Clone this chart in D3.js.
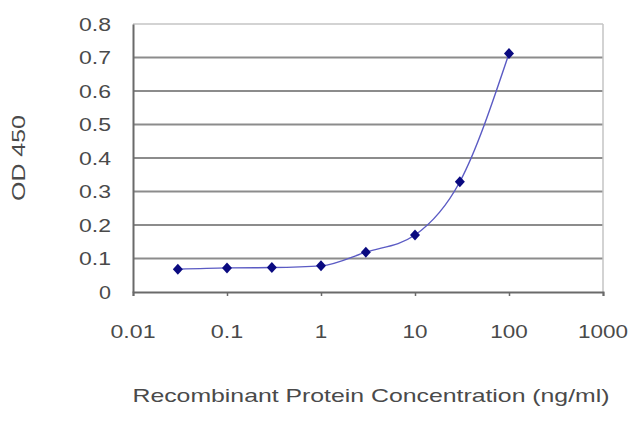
<!DOCTYPE html>
<html>
<head>
<meta charset="utf-8">
<script src="https://cdn.jsdelivr.net/npm/d3@7"></script>
<style>
  html, body { margin: 0; padding: 0; background: #fff; }
  svg { display: block; }
  text { font-family: "Liberation Sans", Arial, sans-serif; fill: #4a4a4a; }
</style>
</head>
<body>
<svg id="chart" width="640" height="427"></svg>
<script>
// Data
const concentrations = [0.03, 0.1, 0.3, 1, 3, 10, 30, 100];
const odValues = [0.068, 0.072, 0.073, 0.078, 0.119, 0.170, 0.329, 0.712];
const xTicks = [0.01, 0.1, 1, 10, 100, 1000];
const xTickLabels = ["0.01", "0.1", "1", "10", "100", "1000"];
const yTicks = [0, 0.1, 0.2, 0.3, 0.4, 0.5, 0.6, 0.7, 0.8];
const yTickLabels = ["0", "0.1", "0.2", "0.3", "0.4", "0.5", "0.6", "0.7", "0.8"];
const xTitle = "Recombinant Protein Concentration (ng/ml)";
const yTitle = "OD 450";

const svg = d3.select("#chart");
const mLeft = 133, mRight = 603, mTop = 24, mBottom = 292;

const x = d3.scaleLog().domain([0.01, 1000]).range([mLeft, mRight]);
const y = d3.scaleLinear().domain([0, 0.8]).range([mBottom, mTop]);

// Gridlines
svg.append("g").selectAll("line")
  .data(yTicks.filter(d => d > 0))
  .join("line")
  .attr("x1", mLeft).attr("x2", mRight)
  .attr("y1", d => y(d)).attr("y2", d => y(d))
  .attr("stroke", d => d === 0.8 ? "#c4c4c4" : "#8c8c8c")
  .attr("stroke-width", d => d === 0.8 ? 1.5 : 2);

// Right border
svg.append("line")
  .attr("x1", mRight).attr("x2", mRight).attr("y1", mTop).attr("y2", mBottom)
  .attr("stroke", "#c4c4c4").attr("stroke-width", 1.5);

// Axes
const xAxis = d3.axisBottom(x).tickValues(xTicks).tickSize(4).tickFormat("");
const gx = svg.append("g").attr("transform", `translate(0,${mBottom})`).call(xAxis);
gx.select(".domain").attr("stroke", "#6a6a6a").attr("stroke-width", 2);
gx.selectAll(".tick line").attr("stroke", "#6a6a6a").attr("stroke-width", 1.5);

const yAxis = d3.axisLeft(y).tickValues(yTicks).tickSize(0).tickFormat("");
const gy = svg.append("g").attr("transform", `translate(${mLeft},0)`).call(yAxis);
gy.select(".domain").attr("stroke", "#6a6a6a").attr("stroke-width", 2);

// Tick labels
svg.append("g").selectAll("text")
  .data(xTicks)
  .join("text")
  .attr("x", d => x(d))
  .attr("y", 338)
  .attr("text-anchor", "middle")
  .attr("font-size", 18.5)
  .attr("textLength", (d, i) => xTickLabels[i].length * 12.5 - (xTickLabels[i].includes(".") ? 5 : 0))
  .attr("lengthAdjust", "spacingAndGlyphs")
  .text((d, i) => xTickLabels[i]);

svg.append("g").selectAll("text")
  .data(yTicks)
  .join("text")
  .attr("x", 111)
  .attr("y", d => y(d))
  .attr("dy", "0.36em")
  .attr("text-anchor", "end")
  .attr("font-size", 18.5)
  .attr("textLength", (d, i) => yTickLabels[i].length === 1 ? 12 : 32)
  .attr("lengthAdjust", "spacingAndGlyphs")
  .text((d, i) => yTickLabels[i]);

// Axis titles
svg.append("text")
  .attr("x", 371).attr("y", 402)
  .attr("text-anchor", "middle")
  .attr("font-size", 18.5)
  .attr("textLength", 477)
  .attr("lengthAdjust", "spacingAndGlyphs")
  .text(xTitle);

svg.append("text")
  .attr("transform", "translate(25,158) rotate(-90)")
  .attr("text-anchor", "middle")
  .attr("font-size", 18.5)
  .attr("textLength", 86)
  .attr("lengthAdjust", "spacingAndGlyphs")
  .text(yTitle);

// Curve
const pts = concentrations.map((c, i) => [c, odValues[i]]);
const line = d3.line().x(d => x(d[0])).y(d => y(d[1])).curve(d3.curveMonotoneX);
svg.append("path")
  .datum(pts)
  .attr("d", line)
  .attr("fill", "none")
  .attr("stroke", "#5b5bc4")
  .attr("stroke-width", 1.4);

// Diamond markers (rotated squares)
const diamond = d3.symbol().type(d3.symbolSquare).size(50);
svg.append("g").selectAll("path")
  .data(pts)
  .join("path")
  .attr("transform", d => `translate(${x(d[0])},${y(d[1])}) scale(1,1.1) rotate(45)`)
  .attr("d", diamond)
  .attr("fill", "#0a0a80");
</script>
</body>
</html>
